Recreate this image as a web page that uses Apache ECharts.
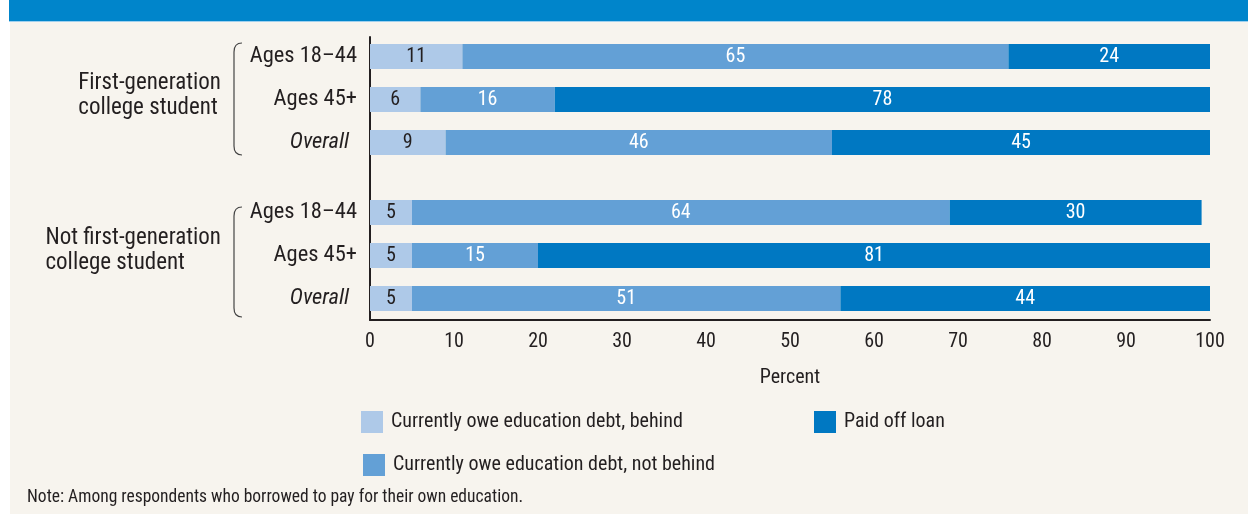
<!DOCTYPE html>
<html>
<head>
<meta charset="utf-8">
<script src="https://cdn.jsdelivr.net/npm/echarts@6/dist/echarts.min.js"></script>
<style>
html,body{margin:0;padding:0;background:#ffffff;}
#chart{width:1248px;height:514px;}
</style>
</head>
<body>
<div id="chart"></div>
<script>
// ---- data ----
const categories = ['Ages 18–44', 'Ages 45+', 'Overall'];
const groupNames = ['First-generation\ncollege student', 'Not first-generation\ncollege student'];
const seriesNames = ['Currently owe education debt, behind', 'Currently owe education debt, not behind', 'Paid off loan'];
// First-generation college student
const firstBehind    = [11, 6, 9];
const firstNotBehind = [65, 16, 46];
const firstPaidOff   = [24, 78, 45];
// Not first-generation college student
const notFirstBehind    = [5, 5, 5];
const notFirstNotBehind = [64, 15, 51];
const notFirstPaidOff   = [30, 81, 44];
const xTicks = [0, 10, 20, 30, 40, 50, 60, 70, 80, 90, 100];
const axisTitle = 'Percent';
const note = 'Note: Among respondents who borrowed to pay for their own education.';

// ---- style ----
const FONT = "'Roboto Condensed', 'Liberation Sans', Arial, sans-serif";
const colors = ['#aec9e8', '#63a0d6', '#0078c2'];
const labelColors = ['#231f20', '#ffffff', '#ffffff'];
const TEXT = '#231f20';
const PLOT_LEFT = 370, PLOT_RIGHT = 38;
const grids = [
  {left: PLOT_LEFT, right: PLOT_RIGHT, top: 35, height: 129},
  {left: PLOT_LEFT, right: PLOT_RIGHT, top: 191, height: 129},
  {left: PLOT_LEFT, right: PLOT_RIGHT, top: 37, height: 283}
];

const chart = echarts.init(document.getElementById('chart'), null, {renderer: 'canvas'});

const yCat = (gi) => ({
  type: 'category', gridIndex: gi, data: categories, inverse: true,
  axisLine: {show: false}, axisTick: {show: false},
  axisLabel: {
    margin: 13, fontFamily: FONT, fontSize: 22.5, color: TEXT,
    formatter: v => v === 'Overall' ? '{i|' + v + '}' : v,
    rich: {i: {fontStyle: 'italic', fontFamily: FONT, fontSize: 22.5, color: TEXT, padding: [0, 8, 0, 0]}}
  }
});
const xHidden = (gi) => ({type: 'value', gridIndex: gi, min: 0, max: 100, show: false});

const groupData = [
  [firstBehind, firstNotBehind, firstPaidOff],
  [notFirstBehind, notFirstNotBehind, notFirstPaidOff]
];
const series = [];
groupData.forEach((arrs, gi) => {
  arrs.forEach((vals, si) => {
    series.push({
      type: 'bar', name: seriesNames[si], xAxisIndex: gi, yAxisIndex: gi,
      stack: 'g' + gi, data: vals, barWidth: 25, clip: true,
      itemStyle: {color: colors[si]},
      label: {show: true, position: 'inside', fontFamily: FONT, fontSize: 20, color: labelColors[si]},
      emphasis: {disabled: true}
    });
  });
});

function brace(top, bottom) {
  const xr = 242, xl = 234, r = 9;
  const st = {stroke: '#444', lineWidth: 1.2, fill: null};
  return [
    {type: 'bezierCurve', shape: {x1: xr, y1: top, cpx1: xl, cpy1: top, x2: xl, y2: top + r}, style: st, silent: true},
    {type: 'line', shape: {x1: xl, y1: top + r, x2: xl, y2: bottom - r}, style: st, silent: true},
    {type: 'bezierCurve', shape: {x1: xl, y1: bottom - r, cpx1: xl, cpy1: bottom, x2: xr, y2: bottom}, style: st, silent: true}
  ];
}

const legendCommon = {
  itemWidth: 22, itemHeight: 22, itemGap: 10, icon: 'rect', selectedMode: false,
  textStyle: {fontFamily: FONT, fontSize: 20, color: TEXT, padding: [0, 0, 0, 3]}
};

chart.setOption({
  backgroundColor: 'transparent',
  animation: false,
  grid: grids,
  xAxis: [xHidden(0), xHidden(1), {
    type: 'value', gridIndex: 2, min: 0, max: 100, interval: 10,
    axisLine: {show: true, onZero: false, lineStyle: {color: TEXT, width: 2}},
    axisTick: {show: false}, splitLine: {show: false},
    axisLabel: {margin: 12, fontFamily: FONT, fontSize: 20, color: TEXT,
      customValues: xTicks},
    name: axisTitle, nameLocation: 'middle', nameGap: 48,
    nameTextStyle: {fontFamily: FONT, fontSize: 20, color: TEXT}
  }],
  yAxis: [yCat(0), yCat(1), {
    type: 'category', gridIndex: 2, data: [''],
    axisLine: {show: true, lineStyle: {color: TEXT, width: 2}},
    axisTick: {show: false}, axisLabel: {show: false}
  }],
  legend: [
    Object.assign({data: [seriesNames[0]], left: 356, top: 406}, legendCommon),
    Object.assign({data: [seriesNames[2]], left: 809, top: 406}, legendCommon),
    Object.assign({data: [seriesNames[1]], left: 358, top: 449}, legendCommon)
  ],
  series: series,
  graphic: [
    {type: 'rect', z: -10, shape: {x: 10, y: 21, width: 1238, height: 493}, style: {fill: '#f7f4ee'}, silent: true},
    {type: 'rect', z: -9, shape: {x: 9, y: 0, width: 1239, height: 21}, style: {fill: '#0085cb'}, silent: true},
    {type: 'rect', z: -9, shape: {x: 9, y: 21, width: 1239, height: 1}, style: {fill: '#9fd0ee'}, silent: true},
    {type: 'text', left: 27, top: 489, style: {text: note, fontFamily: FONT, fontSize: 17.5, fill: TEXT}},
    {type: 'text', right: 1248 - 221, top: 71, style: {text: groupNames[0], fontFamily: FONT, fontSize: 23, fill: TEXT, align: 'right', lineHeight: 25}},
    {type: 'text', right: 1248 - 221, top: 226, style: {text: groupNames[1], fontFamily: FONT, fontSize: 23, fill: TEXT, align: 'right', lineHeight: 24.5}}
  ].concat(brace(43, 155), brace(207, 317))
});
</script>
</body>
</html>
